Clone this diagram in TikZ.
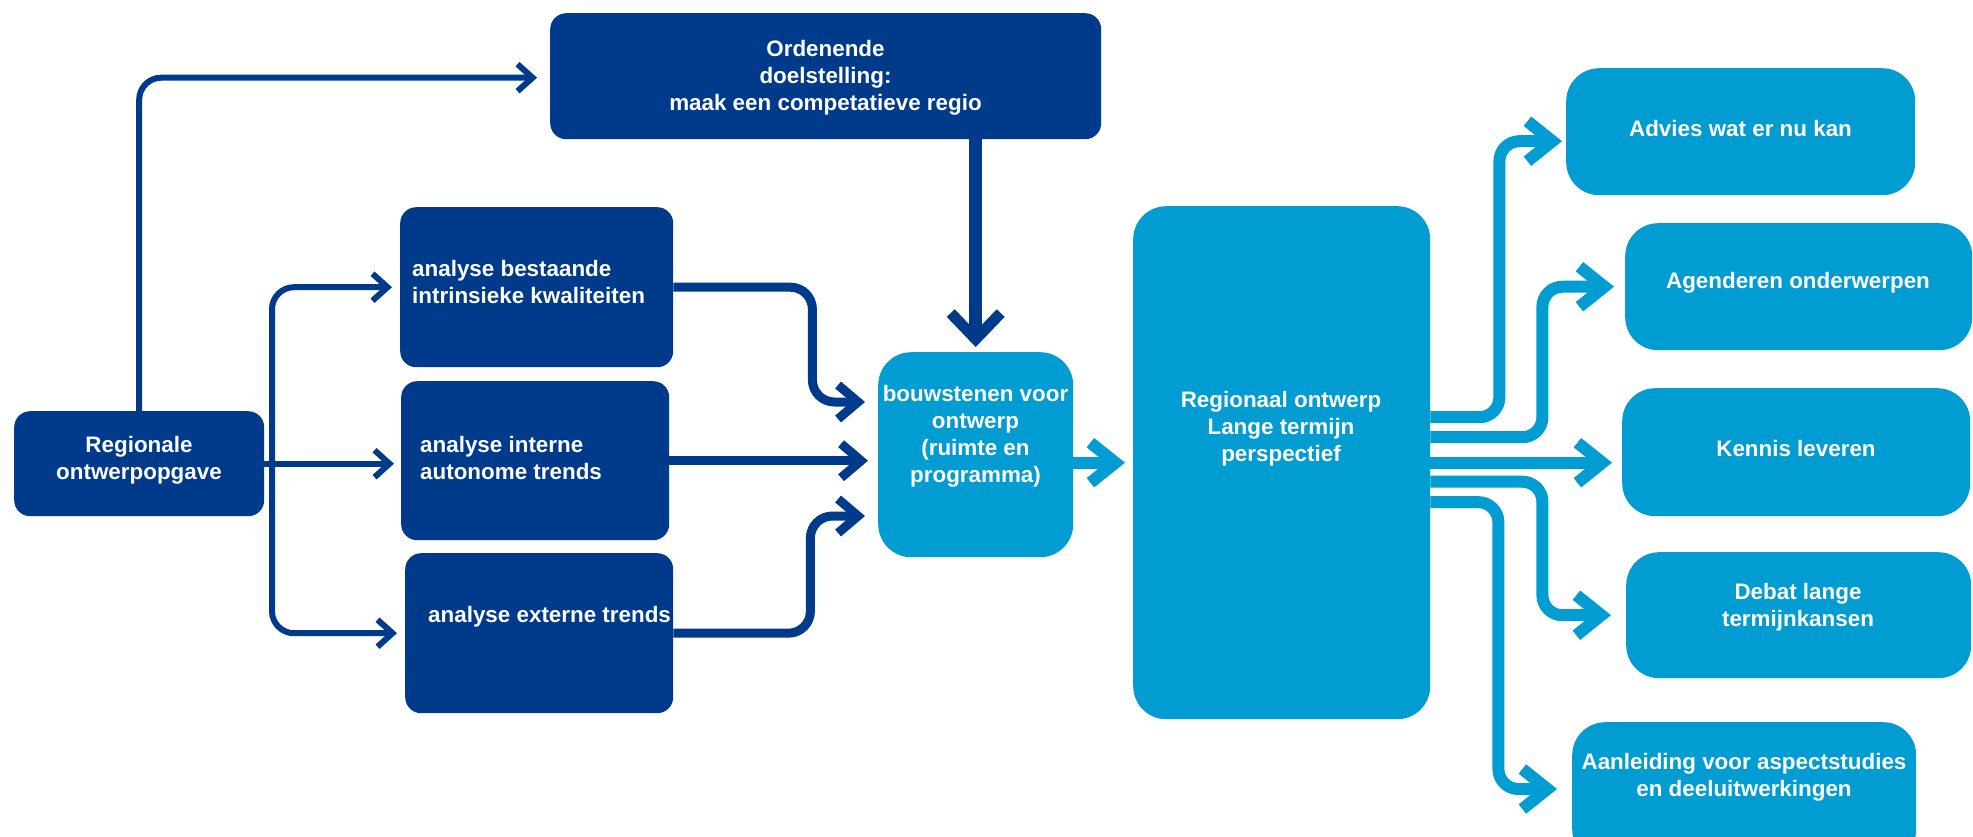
\documentclass[tikz,border=0pt]{standalone}
\usepackage{fontspec}
\setmainfont{Liberation Sans}
\usetikzlibrary{arrows.meta,calc}
\definecolor{navy}{RGB}{0,58,138}
\definecolor{sky}{RGB}{0,156,210}

\begin{document}
\begin{tikzpicture}[x=1pt,y=-1pt,
  box/.style={rectangle, inner sep=0pt, draw=none, anchor=north west},
  darkbox/.style={box, fill=navy, rounded corners=16pt},
  lightbox/.style={box, fill=sky, rounded corners=33pt},
  lbl/.style={text=white, align=center, inner sep=0pt,
    font=\bfseries\fontsize{22.4}{27}\selectfont},
  dkthin/.style={draw=navy, line width=6pt, rounded corners=22pt,
    -{Straight Barb[length=15pt,width=27pt]}},
  dkmed/.style={draw=navy, line width=9pt, rounded corners=22pt,
    -{Straight Barb[length=20pt,width=34pt]}},
  dkthick/.style={draw=navy, line width=13pt,
    -{Straight Barb[length=26pt,width=50pt,line width=11pt]}},
  lt/.style={draw=sky, line width=12pt, rounded corners=20pt,
    -{Straight Barb[length=25pt,width=40pt]}},
]
\clip (0,0) rectangle (1973,836);

% boxes
\node[darkbox, minimum width=551pt, minimum height=126pt] (ord) at (550,13) {};
\node[darkbox, minimum width=250pt, minimum height=105pt] (reg) at (14,411) {};
\node[darkbox, minimum width=273pt, minimum height=160pt] (best) at (400,207) {};
\node[darkbox, minimum width=268pt, minimum height=159pt] (intern) at (401,381) {};
\node[darkbox, minimum width=268pt, minimum height=160pt] (extern) at (405,553) {};
\node[lightbox, minimum width=195pt, minimum height=205pt] (bouw) at (878,352) {};
\node[lightbox, minimum width=297pt, minimum height=513pt] (ront) at (1133,206) {};
\node[lightbox, minimum width=349pt, minimum height=127pt] (advies) at (1566,68) {};
\node[lightbox, minimum width=347pt, minimum height=127pt] (agend) at (1625,223) {};
\node[lightbox, minimum width=348pt, minimum height=128pt] (kennis) at (1622,388) {};
\node[lightbox, minimum width=345pt, minimum height=126pt] (debat) at (1626,552) {};
\node[lightbox, minimum width=344pt, minimum height=140pt] (aanl) at (1572,722) {};

% texts
\node[lbl] (t-ord) at (825.5,78) {Ordenende\\doelstelling:\\maak een competatieve regio};
\node[lbl] (t-reg) at (139,460.5) {Regionale\\ontwerpopgave};
\node[lbl, align=left, anchor=west] (t-best) at (412,281.5) {analyse bestaande\\intrinsieke kwaliteiten};
\node[lbl, align=left, anchor=west] (t-intern) at (420,457.5) {analyse interne\\autonome trends};
\node[lbl, align=left, anchor=west] (t-extern) at (428,617) {analyse externe trends};
\node[lbl] (t-bouw) at (975.5,436.5) {bouwstenen voor\\ontwerp\\(ruimte en\\programma)};
\node[lbl] (t-ront) at (1281,429) {Regionaal ontwerp\\Lange termijn\\perspectief};
\node[lbl] (t-advies) at (1740.5,128) {Advies wat er nu kan};
\node[lbl] (t-agend) at (1798,283) {Agenderen onderwerpen};
\node[lbl] (t-kennis) at (1796,448) {Kennis leveren};
\node[lbl] (t-debat) at (1798,607.5) {Debat lange\\termijnkansen};
\node[lbl] (t-aanl) at (1744,777.5) {Aanleiding voor aspectstudies\\en deeluitwerkingen};

% dark connectors
\coordinate (trunk) at (272,463.5);
\coordinate (ordin) at ($(ord.west)+(0,1.5)$);
\coordinate (bin1) at ($(bouw.north west)+(0,50)$);
\coordinate (bin3) at ($(bouw.north west)+(0,164)$);
\draw[dkthin, shorten >=13pt] (reg.north) |- (ordin);
\draw[dkthin, shorten >=7pt] (reg.east) -- (intern.west |- reg.east);
\draw[dkthin, shorten >=8pt] (trunk) |- (best.west);
\draw[dkthin, shorten >=8pt] (trunk) |- (extern.west);
\draw[dkmed, shorten >=13pt] (best.east) -- ++(139,0) |- (bin1);
\draw[dkmed, shorten >=10pt] (intern.east) -- (intern.east -| bouw.west);
\draw[dkmed, shorten >=13pt] (extern.east) -- ++(137,0) |- (bin3);
\draw[dkthick, shorten >=5pt] (ord.south -| bouw.north) -- (bouw.north);

% light connectors
\coordinate (o1) at ($(ront.east)+(0,-45.5)$);
\coordinate (o2) at ($(ront.east)+(0,-25.5)$);
\coordinate (o4) at ($(ront.east)+(0,19)$);
\coordinate (o5) at ($(ront.east)+(0,39.5)$);
\coordinate (advin) at ($(advies.west)+(0,9.5)$);
\coordinate (aanlin) at ($(aanl.north west)+(0,67)$);
\draw[lt, shorten >=8pt] (ront.west -| bouw.east) -- (ront.west);
\draw[lt, shorten >=4pt] (o1) -- ++(69,0) |- (advin);
\draw[lt, shorten >=11pt] (o2) -- ++(112,0) |- (agend.west);
\draw[lt, shorten >=10pt] (ront.east) -- (ront.east -| kennis.west);
\draw[lt, shorten >=15pt] (o4) -- ++(112,0) |- (debat.west);
\draw[lt, shorten >=15pt] (o5) -- ++(68,0) |- (aanlin);
\end{tikzpicture}
\end{document}
